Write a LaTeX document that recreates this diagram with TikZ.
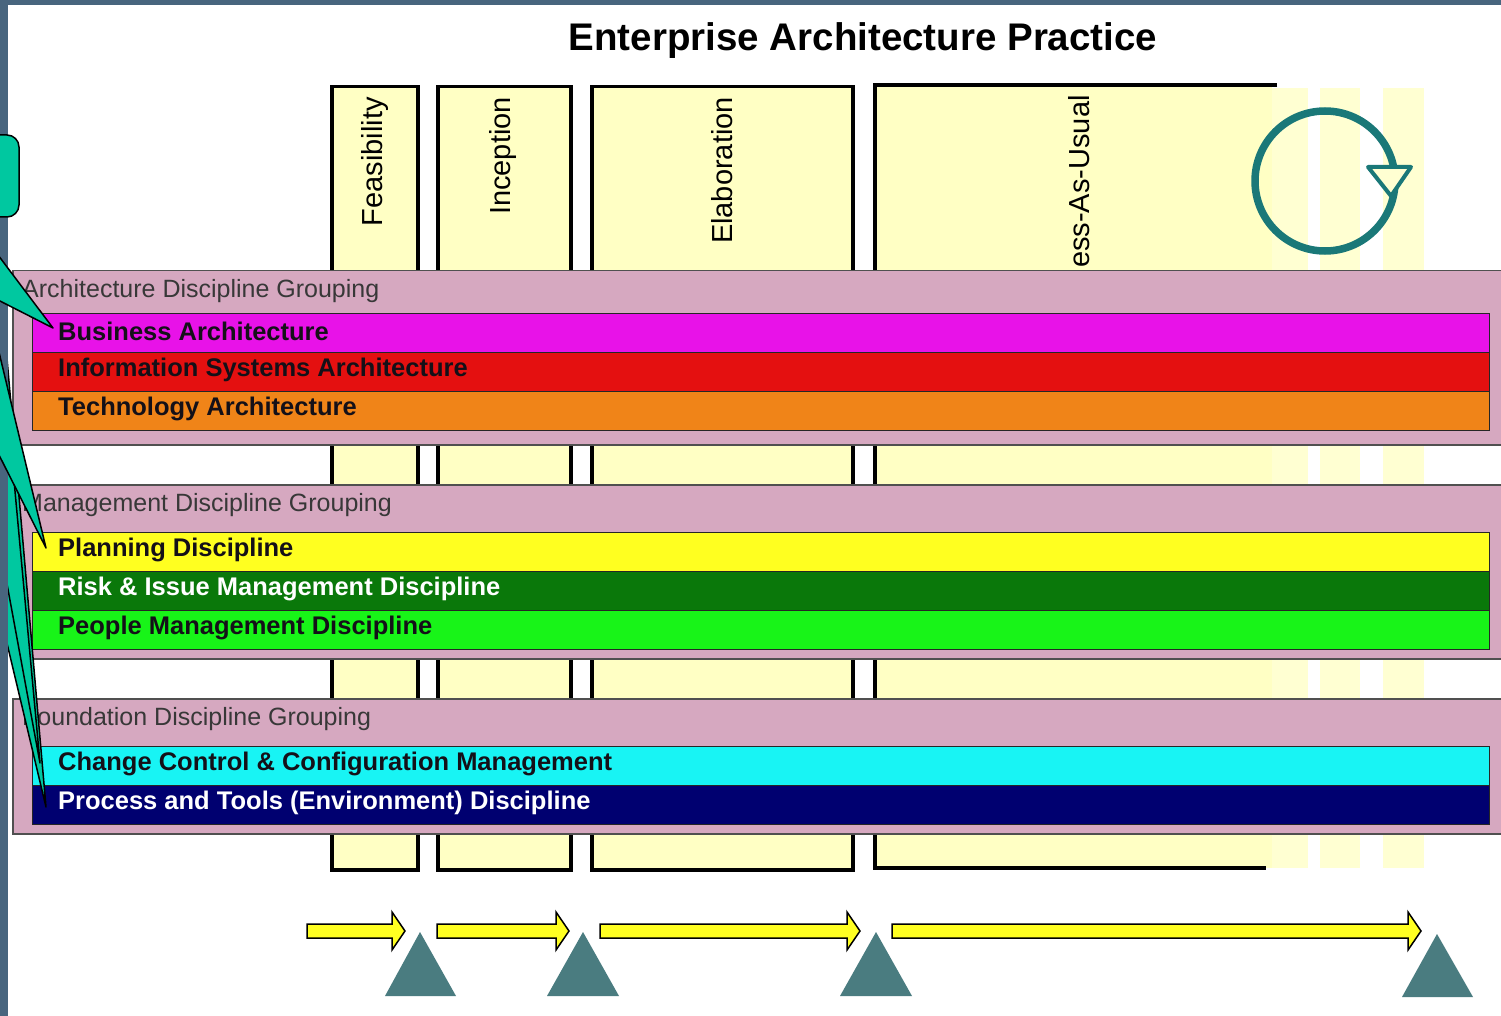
\documentclass[tikz,border=0pt]{standalone}
\usepackage{fontspec}
\setmainfont{Liberation Sans}
\definecolor{slate}{HTML}{48657E}
\definecolor{colyel}{HTML}{FFFFC4}
\definecolor{colfade}{HTML}{FFFFD2}
\definecolor{grppink}{HTML}{D6A8C0}
\definecolor{grpline}{HTML}{505050}
\definecolor{grptxt}{HTML}{383838}
\definecolor{calteal}{HTML}{00C8A0}
\definecolor{miletri}{HTML}{4A7C80}
\definecolor{circteal}{HTML}{1A7878}
\definecolor{arryel}{HTML}{FFFF22}
\definecolor{cmag}{HTML}{E812E8}
\definecolor{cred}{HTML}{E41010}
\definecolor{corange}{HTML}{F08418}
\definecolor{cyellow}{HTML}{FFFF20}
\definecolor{cdkgreen}{HTML}{0A780A}
\definecolor{cgreen}{HTML}{18F418}
\definecolor{ccyan}{HTML}{18F4F4}
\definecolor{cnavy}{HTML}{000070}
\definecolor{darktext}{HTML}{141018}
\begin{document}
\begin{tikzpicture}[x=1pt,y=-1pt,
  colbox/.style={draw=black, line width=3.5pt, fill=colyel, anchor=north west, inner sep=0pt, minimum height=783pt},
  grp/.style={draw=grpline, line width=1.5pt, fill=grppink, anchor=north west, inner sep=0pt, minimum width=1510pt},
  grptext/.style={font=\fontsize{25}{28}\selectfont, text=grptxt, anchor=west, inner sep=0pt},
  bar/.style={draw=black!85, line width=1pt, anchor=north west, inner sep=0pt, minimum width=1457pt, minimum height=39pt},
  bartext/.style={font=\bfseries\fontsize{25.5}{28}\selectfont, anchor=west, inner sep=0pt, text=darktext},
  phase/.style={font=\fontsize{29}{32}\selectfont, rotate=90, anchor=east, inner sep=0pt},
  callout/.style={fill=calteal, draw=black, line width=1.5pt, line join=round},
  yarrow/.style={fill=arryel, draw=black, line width=1.5pt, line join=miter},
  mile/.style={fill=miletri, draw=none}
]
\useasboundingbox (0,0) rectangle (1501,1016);
\fill[white] (0,0) rectangle (1501,1016);
\fill[slate] (0,0) rectangle (1501,5);

% faded stripes to the right of the last phase
\fill[colfade] (1270,88) rectangle (1308,868);
\fill[colfade] (1320,88) rectangle (1360,868);
\fill[colfade] (1383,88) rectangle (1424,868);

% phase columns
\node[colbox, minimum width=86pt] (c1) at (330,85) {};
\node[colbox, minimum width=133pt] (c2) at (436,85) {};
\node[colbox, minimum width=261pt] (c3) at (590,85) {};
\fill[colyel] (875,85) rectangle (1272,868);
\draw[line width=3.5pt] (1277,85) -- (875,85) -- (875,868) -- (1266,868);

\node[phase] (feas) at (375,97) {Feasibility};
\node[phase] (incp) at (503,97) {Inception};
\node[phase] (elab) at (722,97) {Elaboration};
\begin{scope}
  \clip (870,87) rectangle (1300,300);
  \node[phase, anchor=west] (bau) at (1079,268) {ess-As-Usual};
\end{scope}

% cycle symbol
\draw[circteal, line width=7.5pt] (1325,181) circle (70pt);
\draw[circteal, line width=4pt, fill=colfade, line join=round] (1368,167) -- (1411,167) -- (1391,196) -- cycle;

% groups
\node[grp, minimum height=174pt] (garch) at (12,270) {};
\node[grp, minimum height=174pt] (gmgmt) at (12,484) {};
\node[grp, minimum height=135pt] (gfound) at (12,698) {};
\node[grptext] (garchl) at (22,291) {Architecture Discipline Grouping};
\node[grptext] (gmgmtl) at (22,505) {Management Discipline Grouping};
\node[grptext] (gfoundl) at (22,719) {Foundation Discipline Grouping};

% bars
\node[bar, fill=cmag] (b1) at (32,313) {};
\node[bar, fill=cred] (b2) at (32,352) {};
\node[bar, fill=corange] (b3) at (32,391) {};
\node[bar, fill=cyellow] (b4) at (32,532) {};
\node[bar, fill=cdkgreen] (b5) at (32,571) {};
\node[bar, fill=cgreen] (b6) at (32,610) {};
\node[bar, fill=ccyan] (b7) at (32,746) {};
\node[bar, fill=cnavy] (b8) at (32,785) {};
\node[bartext] (t1) at (58,331) {Business Architecture};
\node[bartext] (t2) at (58,370) {Information Systems Architecture};
\node[bartext] (t3) at (58,409) {Technology Architecture};
\node[bartext] (t4) at (58,550) {Planning Discipline};
\node[bartext, text=white] (t5) at (58,589) {Risk \& Issue Management Discipline};
\node[bartext] (t6) at (58,628) {People Management Discipline};
\node[bartext] (t7) at (58,764) {Change Control \& Configuration Management};
\node[bartext, text=white] (t8) at (58,803) {Process and Tools (Environment) Discipline};

% lower callout pointers pass under the slide edge
\draw[callout] (0,614) -- (46,807) -- (0,278) -- cycle;
\draw[callout] (0,546) -- (40,763) -- (0,328) -- cycle;
\fill[slate] (0,0) rectangle (8,1016);
% upper callout pointers and body
\draw[callout] (-2,453) -- (46,548) -- (-2,348) -- cycle;
\draw[callout] (-2,300) -- (53,328) -- (-2,255) -- cycle;
\draw[callout, rounded corners=12pt] (-40,135) rectangle (19,217);

% timeline arrows
\draw[yarrow] (307,924) -- (392,924) -- (392,912) -- (405,931) -- (392,950) -- (392,938) -- (307,938) -- cycle;
\draw[yarrow] (437,924) -- (556,924) -- (556,912) -- (569,931) -- (556,950) -- (556,938) -- (437,938) -- cycle;
\draw[yarrow] (600,924) -- (847,924) -- (847,912) -- (860,931) -- (847,950) -- (847,938) -- (600,938) -- cycle;
\draw[yarrow] (892,924) -- (1408,924) -- (1408,912) -- (1421,931) -- (1408,950) -- (1408,938) -- (892,938) -- cycle;

% milestones
\fill[mile] (420,932) -- (456,996) -- (385,996) -- cycle;
\fill[mile] (583,932) -- (619,996) -- (547,996) -- cycle;
\fill[mile] (876,932) -- (912,996) -- (840,996) -- cycle;
\fill[mile] (1437,934) -- (1473,997) -- (1402,997) -- cycle;

% title
\node[font=\bfseries\fontsize{38.5}{42}\selectfont, inner sep=0pt] (title) at (863,41) {Enterprise Architecture Practice};
\end{tikzpicture}
\end{document}
